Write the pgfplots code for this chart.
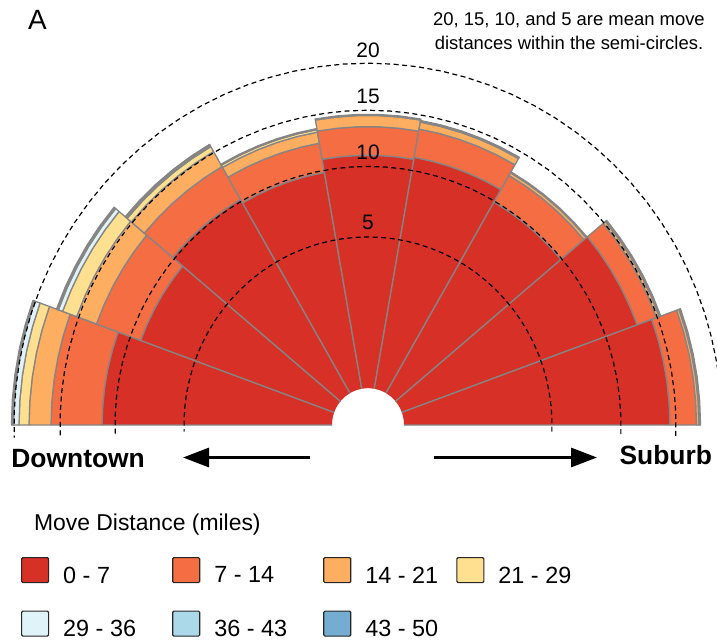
\documentclass[border=0pt]{standalone}
\usepackage{pgfplots}
\pgfplotsset{compat=1.18}
\usepackage{pgfplotstable}
\usetikzlibrary{arrows.meta}
\usepackage{fontspec}
\setmainfont{Liberation Sans}
\definecolor{c1}{HTML}{D73027}
\definecolor{c2}{HTML}{F46D43}
\definecolor{c3}{HTML}{FDAE61}
\definecolor{c4}{HTML}{FEE090}
\definecolor{c5}{HTML}{E0F3F8}
\definecolor{c6}{HTML}{ABD9E9}
\definecolor{c7}{HTML}{74ADD1}
\definecolor{edge}{HTML}{858585}
\newcommand\fs[1]{\fontsize{#1}{#1}\selectfont}
\tikzset{lbl/.style={inner sep=0pt,outer sep=0pt}}

% sector angles (deg) and outer radius of each cumulative distance band
\pgfplotstableread{
a1  a2  r1    r2    r3   r4    r5    r6    r7
160 180 266   317   339  349   354.5 356   356.5
140 160 242   289   310  325   329.5 330.5 331.5
120 140 255   292   309  314.5 316   316.5 317
100 120 251   280   291  293.5 294   294   294.5
80  100 264   292   303  303.5 303.5 303.5 304
60  80  266   294   301  302   302   302   302.5
40  60  252   282   285  285.5 285.5 285.5 286
20  40  286.5 307   310  311   311   311   311.5
0   20  302   328.5 331  331.8 331.8 331.8 332.5
}\sectors
\def\hole{36}

\pgfplotsset{edge line/.style={draw=edge,line width=1.3bp,line join=round}}

\gdef\allplots{}
\foreach \i in {0,...,8}{%
  \pgfplotstablegetelem{\i}{a1}\of\sectors\xdef\aA{\pgfplotsretval}%
  \pgfplotstablegetelem{\i}{a2}\of\sectors\xdef\aB{\pgfplotsretval}%
  \xdef\rin{\hole}%
  \foreach \j in {1,...,7}{%
    \pgfplotstablegetelem{\i}{r\j}\of\sectors\xdef\rout{\pgfplotsretval}%
    \gdef\outer{}\gdef\inner{}%
    \foreach \k in {0,...,5}{%
      \pgfmathsetmacro\ang{\aA+(\aB-\aA)*\k/5}%
      \xdef\outer{\outer(\ang,\rout)}%
    }%
    \foreach \k in {5,4,...,0}{%
      \pgfmathsetmacro\ang{\aA+(\aB-\aA)*\k/5}%
      \xdef\inner{\inner(\ang,\rin)}%
    }%
    \pgfmathtruncatemacro\ok{(\rout-\rin)>0.05}%
    \ifnum\ok=1
      \ifnum\j=1
        \xdef\allplots{\unexpanded\expandafter{\allplots}%
          \noexpand\addplot[forget plot,data cs=polar,fill=c1,draw=none] coordinates {\outer\inner} -- cycle;%
          \noexpand\addplot[forget plot,data cs=polar,edge line,fill=none] coordinates {(\aA,\rin)\outer(\aB,\rin)};}%
      \else
        \xdef\allplots{\unexpanded\expandafter{\allplots}%
          \noexpand\addplot[forget plot,data cs=polar,fill=c\j,edge line] coordinates {\outer\inner} -- cycle;}%
      \fi
    \fi
    \xdef\rin{\rout}%
  }%
}

% dashed reference semicircles (mean move distance 5, 10, 15, 20)
\gdef\dashplots{}
\foreach \R in {184,253,308,354}{%
  \gdef\pts{}%
  \foreach \k in {0,...,46}{%
    \pgfmathsetmacro\ang{-2+4*\k}%
    \xdef\pts{\pts(\ang,\R)}%
  }%
  \xdef\dashplots{\unexpanded\expandafter{\dashplots}%
    \noexpand\addplot[forget plot,data cs=polar,black,line width=1.2bp,dash pattern=on 5bp off 3.5bp] coordinates {\pts};}%
}

\begin{document}
\begin{tikzpicture}
\begin{axis}[
  x=1bp, y=1.022bp,
  xmin=-368, xmax=349, ymin=-212.33, ymax=415.85,
  hide axis, clip=false,
  legend columns=4,
  legend cell align=left,
  legend image code/.code={\draw[#1,draw=black!85,line width=1.2bp,rounded corners=1.2bp] (0bp,-7bp) rectangle (27bp,18bp);},
  legend style={draw=none,fill=none,inner sep=0pt,outer sep=0pt,
    at={(0.0293,0.1324)},anchor=north west,
    font=\fs{23.5},
    nodes={inner sep=0pt},
    row sep=26bp,
    /tikz/every odd column/.append style={column sep=14bp},
    /tikz/column 2/.style={column sep=36bp},
    /tikz/column 4/.style={column sep=36bp},
    /tikz/column 6/.style={column sep=18bp}},
]
\addlegendimage{fill=c1}\addlegendentry{0 - 7}
\addlegendimage{fill=c2}\addlegendentry{7 - 14}
\addlegendimage{fill=c3}\addlegendentry{14 - 21}
\addlegendimage{fill=c4}\addlegendentry{21 - 29}
\addlegendimage{fill=c5}\addlegendentry{29 - 36}
\addlegendimage{fill=c6}\addlegendentry{36 - 43}
\addlegendimage{fill=c7}\addlegendentry{43 - 50}

\allplots
\dashplots

\node[lbl,anchor=base,font=\fs{21}] at (axis cs:0,359.8) {20};
\node[lbl,anchor=base,font=\fs{21}] at (axis cs:0,314.1) {15};
\node[lbl,anchor=base,font=\fs{21}] at (axis cs:0,259.3) {10};
\node[lbl,anchor=base,font=\fs{21}] at (axis cs:0,190.8) {5};

\node[lbl,anchor=base west,font=\fs{28}] at (axis cs:-340,386.5) {A};
\node[lbl,anchor=base,font=\fs{18.5}] at (axis cs:201,390.9) {20, 15, 10, and 5 are mean move};
\node[lbl,anchor=base,font=\fs{18.5}] at (axis cs:201,367.4) {distances within the semi-circles.};

\node[lbl,anchor=base west,font=\bfseries\fs{26.5}] at (axis cs:-356.6,-41.1) {Downtown};
\node[lbl,anchor=base east,font=\bfseries\fs{26.5}] at (axis cs:344,-39.1) {Suburb};
\draw[line width=3bp,-{Triangle[length=26bp,width=19bp]}] (axis cs:-58,-31.8) -- (axis cs:-185,-31.8);
\draw[line width=3bp,-{Triangle[length=26bp,width=19bp]}] (axis cs:66,-31.8) -- (axis cs:229,-31.8);

\node[lbl,anchor=base west,font=\fs{23}] at (axis cs:-334,-103.7) {Move Distance (miles)};

\coordinate (SW) at (rel axis cs:0,0);
\coordinate (NE) at (rel axis cs:1,1);
\end{axis}
\pgfresetboundingbox
\path[use as bounding box] (SW) rectangle (NE);
\end{tikzpicture}
\end{document}
